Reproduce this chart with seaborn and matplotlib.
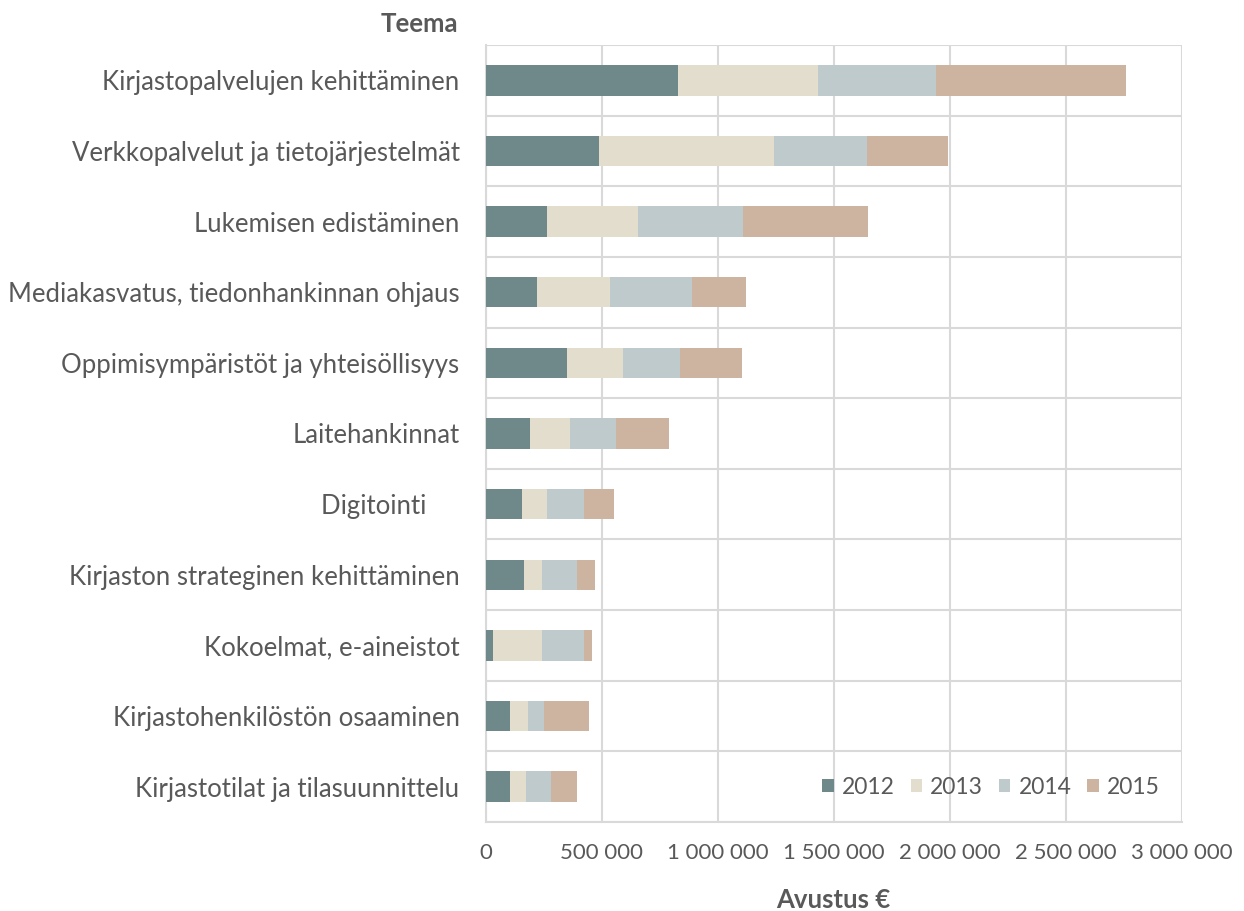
import numpy as np
import pandas as pd
import seaborn as sns
import matplotlib.pyplot as plt
from matplotlib.ticker import FixedLocator, FuncFormatter
from matplotlib.patches import Patch

# teemat ylhäältä alas
themes = [
    "Kirjastopalvelujen kehittäminen",
    "Verkkopalvelut ja tietojärjestelmät",
    "Lukemisen edistäminen",
    "Mediakasvatus, tiedonhankinnan ohjaus",
    "Oppimisympäristöt ja yhteisöllisyys",
    "Laitehankinnat",
    "Digitointi     ",
    "Kirjaston strateginen kehittäminen",
    "Kokoelmat, e-aineistot",
    "Kirjastohenkilöstön osaaminen",
    "Kirjastotilat ja tilasuunnittelu",
]
years = ["2012", "2013", "2014", "2015"]

# avustukset (€), luettu kuvasta
v2012 = [827600, 486800, 261700, 219800, 349100, 189700, 155200, 163800, 30200, 103400, 103400]
v2013 = [602200, 754300, 392600, 314700, 241400, 172400, 107800, 77600, 211200, 77600, 69000]
v2014 = [510000, 400300, 452200, 353400, 245700, 198300, 159500, 150900, 181000, 69000, 107800]
v2015 = [817700, 350200, 538800, 232800, 267200, 228400, 129300, 77600, 34500, 194000, 112100]

colors = ["#6f898a", "#e3ddcd", "#becacb", "#cdb4a1"]
txt = "#595959"

df = pd.DataFrame({"Teema": themes, "2012": v2012, "2013": v2013,
                   "2014": v2014, "2015": v2015})
cum = df[years].cumsum(axis=1)
cum["Teema"] = df["Teema"]

sns.set_style("white")
plt.rcParams["font.family"] = ["Lato", "DejaVu Sans"]

fig = plt.figure(figsize=(12.44, 9.11), dpi=100)
ax = fig.add_axes([486 / 1244, 1 - 822 / 911, (1182 - 486) / 1244, (822 - 45) / 911])

# pinotut palkit: piirretään kumulatiiviset summat suurimmasta alkaen
for y, c in reversed(list(zip(years, colors))):
    sns.barplot(data=cum, x=y, y="Teema", color=c, width=0.43,
                saturation=1, ax=ax, zorder=3, edgecolor="none")

ax.set_xlim(0, 3000000)
ax.set_ylim(len(themes) - 0.5, -0.5)
ax.xaxis.set_major_locator(FixedLocator(np.arange(0, 3000001, 500000)))
ax.xaxis.set_major_formatter(FuncFormatter(lambda v, p: f"{int(v):,}".replace(",", " ")))
ax.yaxis.set_minor_locator(FixedLocator(np.arange(-0.5, len(themes), 1.0)))

ax.grid(axis="x", which="major", color="#d9d9d9", lw=1.5, zorder=0)
ax.grid(axis="y", which="minor", color="#d9d9d9", lw=1.5, zorder=0)
for s in ["top", "right"]:
    ax.spines[s].set_visible(False)
for s in ["left", "bottom"]:
    ax.spines[s].set_color("#d9d9d9")
    ax.spines[s].set_linewidth(1.5)

ax.set_xlabel("")
ax.set_ylabel("")
ax.tick_params(axis="x", length=0, pad=15, labelsize=16, labelcolor=txt)
ax.tick_params(axis="y", which="both", length=0, pad=19, labelsize=18.5, labelcolor=txt)

fig.text(458 / 1244, 1 - 24 / 911, "Teema", ha="right", va="center",
         fontsize=18.5, fontweight="bold", color=txt)
fig.text(833 / 1244, 1 - 900 / 911, "Avustus €", ha="center", va="center",
         fontsize=18.5, fontweight="bold", color=txt)

handles = [Patch(facecolor=c, edgecolor="none") for c in colors]
fig.legend(handles, years, ncol=4, loc="center",
           bbox_to_anchor=(991 / 1244, 1 - 787 / 911), frameon=False,
           fontsize=16.5, labelcolor=txt, handlelength=0.5, handleheight=0.5,
           handletextpad=0.35, columnspacing=0.7)

fig.savefig("out.png", dpi=100)
